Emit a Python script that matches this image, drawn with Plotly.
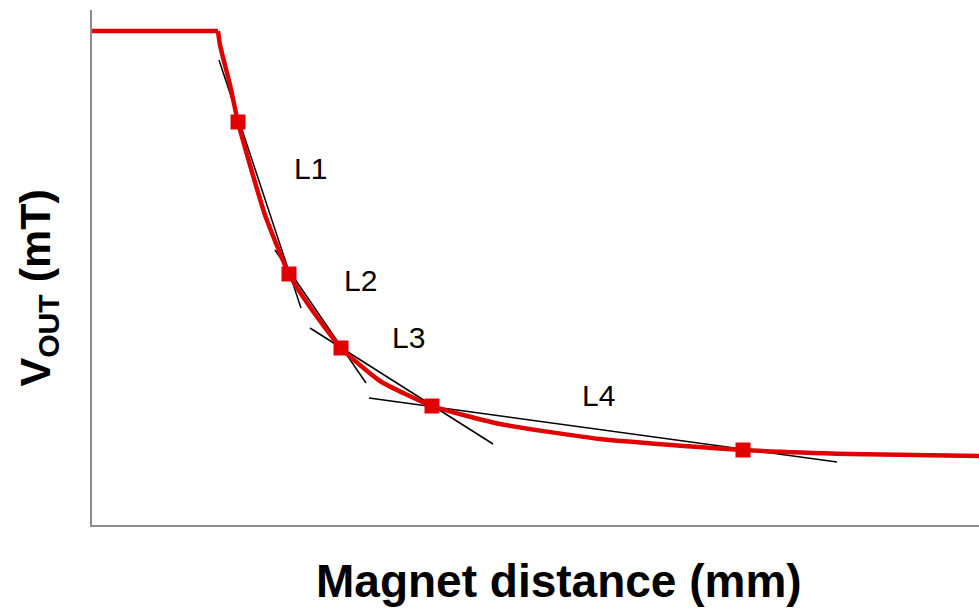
import plotly.graph_objects as go

# Flat (saturated) part of the curve (distance mm, field mT)
flat_x = [0, 2.52]
flat_y = [98.8, 98.8]

# Decaying part of the curve
curve_x = [2.52, 2.56, 2.76, 2.92, 3.16, 3.46, 3.94, 4.36, 4.98, 5.76, 6.80, 8.16, 10.16, 13.02, 15.16, 17.74]
curve_y = [98.8, 96.0, 88.0, 80.6, 72.0, 62.0, 50.2, 43.6, 35.4, 28.8, 23.8, 20.2, 17.2, 15.0, 14.2, 13.8]

# Marked points
pts_x = [2.92, 3.94, 4.98, 6.80, 13.02]
pts_y = [80.6, 50.2, 35.4, 23.8, 15.0]

# Tangent segments (start/end)
tan_names = ["L1", "L2", "L3", "L4"]
tan_x0 = [2.54, 3.66, 4.36, 5.54]
tan_y0 = [93.0, 55.0, 39.4, 25.4]
tan_x1 = [4.18, 5.48, 8.02, 14.90]
tan_y1 = [43.4, 28.4, 16.2, 12.6]

# Label positions
lab_x = [4.36, 5.36, 6.32, 10.12]
lab_y = [71.4, 49.0, 37.6, 26.0]

RED = "#E00000"
FONT = "Liberation Sans, Arial"

fig = go.Figure()

for i in range(len(tan_names)):
    fig.add_trace(go.Scatter(x=[tan_x0[i], tan_x1[i]], y=[tan_y0[i], tan_y1[i]], mode="lines",
                             line=dict(color="black", width=1.5), showlegend=False, hoverinfo="skip"))

fig.add_trace(go.Scatter(x=flat_x, y=flat_y, mode="lines",
                         line=dict(color=RED, width=4.5), showlegend=False))
fig.add_trace(go.Scatter(x=curve_x, y=curve_y, mode="lines",
                         line=dict(color=RED, width=4.5, shape="spline", smoothing=0.5),
                         showlegend=False))
fig.add_trace(go.Scatter(x=pts_x, y=pts_y, mode="markers",
                         marker=dict(symbol="square", color=RED, size=15),
                         showlegend=False))

for i in range(len(tan_names)):
    fig.add_annotation(x=lab_x[i], y=lab_y[i], text=tan_names[i], showarrow=False,
                       font=dict(family=FONT, size=30, color="black"))

fig.add_annotation(xref="paper", yref="paper", x=-0.061, y=0.461,
                   text="<b>V<sub>OUT</sub> (mT)</b>",
                   textangle=-90, showarrow=False, xanchor="center", yanchor="middle",
                   font=dict(family=FONT, size=43, color="black"))
fig.add_annotation(xref="paper", yref="paper", x=0.527, y=-0.108, text="<b>Magnet distance (mm)</b>",
                   showarrow=False, xanchor="center", yanchor="middle",
                   font=dict(family=FONT, size=46, color="black"))

fig.update_layout(
    width=979, height=609,
    margin=dict(l=92, r=0, t=10, b=84),
    paper_bgcolor="white", plot_bgcolor="white",
    xaxis=dict(range=[0, 17.74], showgrid=False, zeroline=False, showticklabels=False, ticks="",
               showline=True, linecolor="#8c8c8c", linewidth=2),
    yaxis=dict(range=[0, 103], showgrid=False, zeroline=False, showticklabels=False, ticks="",
               showline=True, linecolor="#8c8c8c", linewidth=2),
)

fig.write_html("out.html")
